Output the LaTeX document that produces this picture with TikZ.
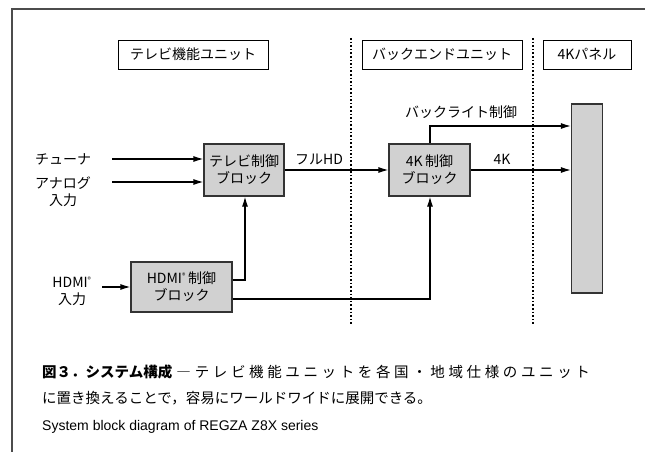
\documentclass[tikz,border=0pt]{standalone}
\usepackage{fontspec}
\setmainfont{Noto Sans CJK JP}
\newfontfamily\jpfont{Noto Sans CJK JP}
\newfontfamily\jpwide[LetterSpace=25]{Noto Sans CJK JP}
\newfontfamily\enfont{Liberation Sans}
\usetikzlibrary{arrows.meta}
\begin{document}
\begin{tikzpicture}[x=1pt,y=-1pt,
  frameline/.style={draw=black!70, line width=1.3pt},
  hdr/.style={draw=black, line width=0.9pt, fill=white, minimum height=29pt, inner sep=0pt, font=\jpfont\fontsize{14}{16}\selectfont},
  blk/.style={draw=black!80, line width=1.2pt, fill=black!18, align=center, inner sep=0pt, font=\jpfont\fontsize{14}{17}\selectfont},
  lbl/.style={inner sep=0pt, align=center, font=\jpfont\fontsize{14}{17}\selectfont},
  arr/.style={-{Latex[length=10pt,width=6pt]}, line width=1.2pt},
  sepline/.style={dotted, line width=1.6pt},
  captxt/.style={anchor=west, inner sep=0pt, font=\jpfont\fontsize{14.5}{17}\selectfont}
]
\useasboundingbox (0,0) rectangle (645,452);
\draw[frameline] (12,452) -- (12,9) -- (645,9);

% header boxes
\node[hdr, minimum width=150pt] (h1) at (193,54.5) {テレビ機能ユニット};
\node[hdr, minimum width=160pt] (h2) at (442,54.5) {バックエンドユニット};
\node[hdr, minimum width=88pt] (h3) at (587,54.5) {4Kパネル};

% separators
\coordinate (d1t) at (351,38); \coordinate (d1b) at (351,325);
\coordinate (d2t) at (533,38); \coordinate (d2b) at (533,325);
\draw[sepline] (d1t) -- (d1b);
\draw[sepline] (d2t) -- (d2b);

% blocks
\node[blk, minimum width=80pt, minimum height=52pt] (tv) at (244,170) {テレビ制御\\ブロック};
\node[blk, minimum width=101pt, minimum height=50pt] (hdmi) at (181.5,287) {HDMI\textsuperscript{\scriptsize ®}\,制御\\ブロック};
\node[blk, minimum width=81pt, minimum height=52pt] (k4) at (429.5,170) {4K\,制御\\ブロック};
\node[blk, minimum width=31pt, minimum height=189pt] (panel) at (587,198.5) {};

% labels
\node[lbl] (tuner) at (63,159) {チューナ};
\node[lbl] (analog) at (63,192) {アナログ\\入力};
\node[lbl] (hdmiin) at (72,291) {HDMI\textsuperscript{\scriptsize ®}\\入力};
\node[lbl] (fullhd) at (319,159) {フルHD};
\node[lbl] (lab4k) at (502,159) {4K};
\node[lbl] (backlight) at (461,112) {バックライト制御};

% arrow start coordinates
\coordinate (ts) at (112,159);
\coordinate (as) at (112,182);
\coordinate (hs) at (102,287);
\coordinate (hv) at (245,280);
\coordinate (hk) at (430,299);
\coordinate (bl) at (430,126);

\draw[arr] (ts) -- (tv.west |- ts);
\draw[arr] (as) -- (tv.west |- as);
\draw[arr] (hs) -- (hdmi.west |- hs);
\draw[arr] (hdmi.east |- hv) -- (hv) -- (tv.south -| hv);
\draw[arr] (hdmi.east |- hk) -- (hk) -- (k4.south -| hk);
\draw[arr] (tv.east) -- (k4.west);
\draw[arr] (k4.east) -- (k4.east -| panel.west);
\draw[arr] (k4.north -| bl) -- (bl) -- (panel.west |- bl);

% caption
\node[captxt] (cap1) at (42,372) {{\bfseries 図３．システム構成}\hspace{4pt}―\hspace{4pt}{\jpwide テレビ機能ユニットを各国・地域仕様のユニット}};
\node[captxt] (cap2) at (42,398) {に置き換えることで，容易にワールドワイドに展開できる。};
\node[captxt, font=\enfont\fontsize{14}{16}\selectfont] (cap3) at (42,427) {System block diagram of REGZA Z8X series};
\end{tikzpicture}
\end{document}
